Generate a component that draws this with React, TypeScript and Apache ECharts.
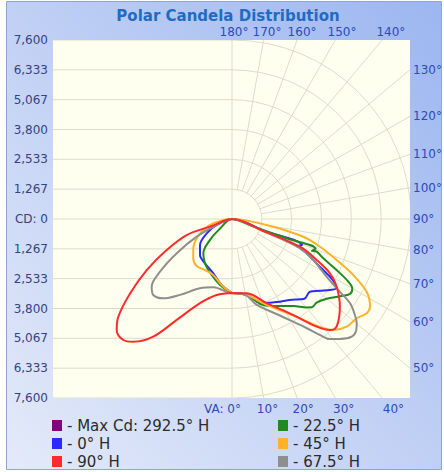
import React, { useEffect, useRef } from "react";
import * as echarts from "echarts";

// ---------- data ----------
const TITLE = "Polar Candela Distribution";
const CD_MAX = 7600;
const CD_TICK_LABELS = ["7,600", "6,333", "5,067", "3,800", "2,533", "1,267", "CD: 0", "1,267", "2,533", "3,800", "5,067", "6,333", "7,600"];
const CD_RINGS = [1266.67, 2533.33, 3800, 5066.67, 6333.33, 7600];
const VA_RAYS = [10, 20, 30, 40, 50, 60, 70, 80, 90, 100, 110, 120, 130, 140, 150, 160, 170];
const VA_LABEL_ANGLES = [0, 10, 20, 30, 40, 50, 60, 70, 80, 90, 100, 110, 120, 130, 140, 150, 160, 170, 180];
const VA_LABEL_TEXTS = ["VA: 0°", "10°", "20°", "30°", "40°", "50°", "60°", "70°", "80°", "90°", "100°", "110°", "120°", "130°", "140°", "150°", "160°", "170°", "180°"];

const SERIES_NAMES = ["Max Cd: 292.5° H", "0° H", "22.5° H", "45° H", "67.5° H", "90° H"];
const SERIES_COLORS = ["#800080", "#2a2aff", "#1f8a1f", "#ffb128", "#8e8e8e", "#ff2a2a"];
const LEGEND_COL1 = ["Max Cd: 292.5° H", "0° H", "90° H"];
const LEGEND_COL2 = ["22.5° H", "45° H", "67.5° H"];

// [vertical angle, candela]
const MAX_RIGHT: number[][] = [];
const MAX_LEFT: number[][] = [];
const H0_RIGHT = [[0, 3142], [10.9, 3286], [20.4, 3804], [30.1, 4059], [35.6, 4229], [40.3, 4467], [42.6, 4577], [47, 4526], [50.8, 4819], [54.1, 5137], [56.3, 5307], [58, 5154], [59.5, 4828], [61.5, 4246], [65.3, 3490], [66.9, 3142], [68.2, 3060], [69.6, 3172], [70, 1500], [70.5, 0]];
const H0_LEFT = [[0, 3142], [8.9, 2836], [19, 2437], [31.4, 2204], [41.6, 2047], [50.9, 1749], [60.5, 1231], [68.6, 696], [73, 0]];
const H225_RIGHT = [[0, 3142], [10.9, 3286], [20, 3885], [27.2, 4153], [35.2, 4518], [40.2, 4913], [42.1, 5053], [45.3, 5053], [49.9, 5252], [54.4, 5638], [57.6, 5936], [60, 5898], [61.7, 5605], [64, 4942], [66.7, 4220], [68.9, 3855], [68.3, 3650], [70.4, 3760], [70.6, 2463], [70.3, 964], [71, 0]];
const H225_LEFT = [[0, 3142], [10.3, 2845], [19.9, 2531], [31.4, 2204], [39.9, 1898], [46, 1350], [51, 700], [55, 0]];
const H45_RIGHT = [[0, 3142], [10.9, 3286], [22, 3936], [34.4, 5112], [39.9, 6046], [42.4, 6382], [46.8, 6679], [51.5, 6768], [55, 6980], [57.6, 6942], [61.6, 6496], [65.2, 5672], [68.6, 4772], [72.5, 3919], [76, 3121], [80.2, 1486], [83, 0]];
const H45_LEFT = [[0, 3142], [8.9, 2836], [18.5, 2505], [27.9, 2450], [36.9, 2497], [44.6, 2344], [52.9, 2059], [61.3, 1707], [69, 1303], [77, 807], [82, 0]];
const H675_RIGHT = [[0, 3142], [10, 3270], [16, 3779], [26.8, 4615], [34.1, 5562], [37.2, 6182], [39.2, 6581], [43.9, 7027], [47.1, 7133], [50.1, 6904], [52, 6624], [54.5, 6157], [56, 5520], [58.6, 4713], [63.2, 3864], [66.7, 3142], [68.5, 1486], [69.5, 0]];
const H675_LEFT = [[0, 3142], [4.2, 3095], [15.3, 3006], [24.8, 3240], [34.4, 3906], [40.9, 4458], [46, 4645], [49.9, 4458], [53.8, 3787], [58.2, 2760], [63.4, 1677], [68.6, 696], [70, 0]];
const H90_RIGHT = [[0, 3142], [11.2, 3214], [22.4, 3864], [32.6, 4840], [38.2, 5817], [41.4, 6284], [44.2, 6369], [50.9, 5902], [57.1, 5295], [61, 4755], [64.2, 3991], [67.8, 3117], [69, 1500], [70, 0]];
const H90_LEFT = [[0, 3142], [11.4, 3291], [20.8, 3821], [28.7, 4883], [33.8, 6012], [38.8, 6687], [41.9, 6904], [46.1, 6793], [49.3, 6369], [53.9, 5350], [59.1, 4220], [64.6, 3070], [70.5, 2038], [71, 900], [71.5, 0]];

const SERIES_RIGHT = [MAX_RIGHT, H0_RIGHT, H225_RIGHT, H45_RIGHT, H675_RIGHT, H90_RIGHT];
const SERIES_LEFT = [MAX_LEFT, H0_LEFT, H225_LEFT, H45_LEFT, H675_LEFT, H90_LEFT];

// ---------- layout / style ----------
const GRID_LEFT = 53;
const GRID_TOP = 40;
const GRID_W = 357;
const GRID_H = 358;
const HALF = 179;
const GRID_COLOR = "#dedbc9";
const FONT = '"DejaVu Sans", Verdana, sans-serif';

function loop(right: number[][], left: number[][]) {
  const r = right.map(([va, cd]) => [cd, va]);
  const l = left.slice().reverse().map(([va, cd]) => [cd, 360 - va]);
  return r.concat(l);
}

function buildOption() {
  const step = CD_MAX / 6;
  const xMax = (CD_MAX * (GRID_W - HALF)) / HALF;

  const lineSeries = SERIES_NAMES.map((name, i) => ({
    name,
    type: "line",
    coordinateSystem: "polar",
    polarIndex: 0,
    data: loop(SERIES_RIGHT[i], SERIES_LEFT[i]),
    smooth: 0.35,
    showSymbol: false,
    symbol: "none",
    lineStyle: { color: SERIES_COLORS[i], width: 2 },
    itemStyle: { color: SERIES_COLORS[i] },
    z: 5,
  }));

  const ringSeries = {
    type: "custom",
    coordinateSystem: "cartesian2d",
    clip: true,
    silent: true,
    z: 2,
    data: [0].concat(CD_RINGS).map((v) => [v]),
    renderItem: (params: any, api: any) => {
      const r = api.value(0);
      const c = api.coord([0, 0]);
      const cs = params.coordSys;
      const st = { stroke: GRID_COLOR, lineWidth: 1, fill: null };
      if (r === 0) {
        return {
          type: "group",
          children: [
            { type: "line", shape: { x1: cs.x, y1: c[1], x2: c[0], y2: c[1] }, style: st },
            { type: "line", shape: { x1: c[0], y1: cs.y, x2: c[0], y2: cs.y + cs.height }, style: st },
          ],
        };
      }
      const yTop = api.coord([0, r])[1];
      const yBot = api.coord([0, -r])[1];
      const rp = c[1] - yTop;
      return {
        type: "group",
        children: [
          { type: "line", shape: { x1: cs.x, y1: yTop, x2: c[0], y2: yTop }, style: st },
          { type: "line", shape: { x1: cs.x, y1: yBot, x2: c[0], y2: yBot }, style: st },
          { type: "arc", shape: { cx: c[0], cy: c[1], r: rp, startAngle: -Math.PI / 2, endAngle: Math.PI / 2, clockwise: true }, style: st },
        ],
      };
    },
  };

  const raySeries = {
    type: "custom",
    coordinateSystem: "cartesian2d",
    clip: true,
    silent: true,
    z: 2,
    data: VA_RAYS.map((v) => [v]),
    renderItem: (params: any, api: any) => {
      const va = (api.value(0) * Math.PI) / 180;
      const c = api.coord([0, 0]);
      const cs = params.coordSys;
      const r0 = c[1] - api.coord([0, CD_RINGS[0]])[1];
      const sx = Math.sin(va);
      const sy = Math.cos(va);
      let t = Infinity;
      if (sx > 1e-6) t = Math.min(t, (cs.x + cs.width - c[0]) / sx);
      if (sy > 1e-6) t = Math.min(t, (cs.y + cs.height - c[1]) / sy);
      if (sy < -1e-6) t = Math.min(t, (cs.y - c[1]) / sy);
      return {
        type: "line",
        shape: { x1: c[0] + sx * r0, y1: c[1] + sy * r0, x2: c[0] + sx * t, y2: c[1] + sy * t },
        style: { stroke: GRID_COLOR, lineWidth: 1 },
      };
    },
  };

  const labelSeries = {
    type: "custom",
    coordinateSystem: "cartesian2d",
    clip: false,
    silent: true,
    z: 6,
    data: VA_LABEL_ANGLES.map((_, i) => [i]),
    renderItem: (params: any, api: any) => {
      const i = api.value(0);
      const vaDeg = VA_LABEL_ANGLES[i];
      const va = (vaDeg * Math.PI) / 180;
      const c = api.coord([0, 0]);
      const cs = params.coordSys;
      let x = 0;
      let y = 0;
      let align = "center";
      if (vaDeg < 45) {
        y = cs.y + cs.height + 11;
        x = c[0] + (y - c[1]) * Math.tan(va) + 2;
        if (vaDeg === 0) {
          align = "right";
          x = c[0] + 9;
        }
      } else if (vaDeg > 135) {
        y = cs.y - 8;
        x = c[0] + (c[1] - y) * Math.tan(Math.PI - va) + 2;
      } else {
        x = cs.x + cs.width + 3;
        y = c[1] + ((cs.x + cs.width - c[0]) * Math.cos(va)) / Math.sin(va);
        align = "left";
      }
      return {
        type: "text",
        x,
        y,
        style: {
          text: VA_LABEL_TEXTS[i],
          fill: "#2c4bb4",
          font: `12px ${FONT}`,
          textAlign: align,
          textVerticalAlign: "middle",
        },
      };
    },
  };

  const legendBase = {
    orient: "vertical",
    icon: "rect",
    itemWidth: 10,
    itemHeight: 11,
    itemGap: 3,
    selectedMode: false,
    formatter: "- {name}",
    textStyle: { color: "#2b2b2b", fontFamily: FONT, fontSize: 15, lineHeight: 14.5 },
    padding: 0,
  };

  return {
    animation: false,
    graphic: [
      {
        type: "rect",
        z: -10,
        silent: true,
        shape: { x: 6.5, y: 1.5, width: 435, height: 468 },
        style: {
          fill: new echarts.graphic.LinearGradient(0, 1, 1, 0, [
            { offset: 0, color: "#e4eaf9" },
            { offset: 1, color: "#9cb6f0" },
          ]),
          stroke: "#8ea5d2",
          lineWidth: 1,
        },
      },
      {
        type: "text",
        z: 10,
        silent: true,
        x: 228,
        y: 16,
        style: {
          text: TITLE,
          fill: "#1f6bc4",
          font: `bold 15px ${FONT}`,
          textAlign: "center",
          textVerticalAlign: "middle",
        },
      },
    ],
    grid: {
      left: GRID_LEFT,
      top: GRID_TOP,
      width: GRID_W,
      height: GRID_H,
      show: true,
      backgroundColor: "#fffff0",
      borderWidth: 0,
    },
    xAxis: { type: "value", min: -CD_MAX, max: xMax, show: false },
    yAxis: {
      type: "value",
      min: -CD_MAX,
      max: CD_MAX,
      interval: step,
      axisLine: { show: false },
      axisTick: { show: false },
      splitLine: { show: false },
      axisLabel: {
        color: "#34437f",
        fontFamily: FONT,
        fontSize: 12,
        margin: 5,
        showMinLabel: true,
        showMaxLabel: true,
        formatter: (v: number) => CD_TICK_LABELS[Math.round((CD_MAX - v) / step)] ?? "",
      },
    },
    polar: { center: [GRID_LEFT + HALF, GRID_TOP + HALF], radius: HALF },
    angleAxis: { type: "value", min: 0, max: 360, startAngle: 270, clockwise: false, show: false },
    radiusAxis: { type: "value", min: 0, max: CD_MAX, show: false },
    legend: [
      { ...legendBase, left: 52, top: 418, data: LEGEND_COL1 },
      { ...legendBase, left: 278, top: 418, data: LEGEND_COL2 },
    ],
    series: [ringSeries, raySeries, ...lineSeries, labelSeries],
  };
}

export default function App() {
  const ref = useRef<HTMLDivElement>(null);
  useEffect(() => {
    if (!ref.current) return;
    const chart = echarts.init(ref.current, null, { renderer: "svg" });
    chart.setOption(buildOption() as any);
    return () => chart.dispose();
  }, []);
  return (
    <div style={{ position: "fixed", left: 0, top: 0, width: 444, height: 472, background: "#ffffff" }}>
      <div ref={ref} style={{ width: 444, height: 472 }} />
    </div>
  );
}
